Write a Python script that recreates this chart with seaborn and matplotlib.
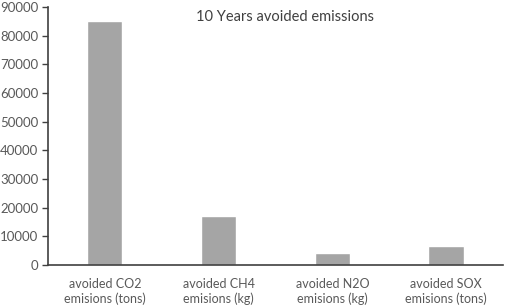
import pandas as pd
import seaborn as sns
import matplotlib.pyplot as plt

# Chart data
categories = ['avoided CO2\nemisions (tons)', 'avoided CH4\nemisions (kg)',
              'avoided N2O\nemisions (kg)', 'avoided SOX\nemisions (tons)']
values = [85000, 17200, 4200, 6500]
yticks = list(range(0, 90001, 10000))

df = pd.DataFrame({'category': categories, 'value': values})

sns.set_style('white')
plt.rcParams['font.family'] = ['Lato', 'DejaVu Sans']

fig = plt.figure(figsize=(5.05, 3.06), dpi=100)
ax = fig.add_axes([0.095, 0.134, 0.901, 0.843])

sns.barplot(data=df, x='category', y='value', color='#a5a5a5', saturation=1,
            width=0.31, ax=ax)

ax.set_ylim(0, 90000)
ax.set_yticks(yticks)
ax.set_xlabel('')
ax.set_ylabel('')
ax.tick_params(axis='y', left=True, length=4, width=1, color='#404040',
               labelsize=9.5, labelcolor='#595959', pad=3)
ax.tick_params(axis='x', bottom=False, labelsize=9, labelcolor='#595959', pad=6)
for lbl in ax.get_xticklabels():
    lbl.set_linespacing(1.25)

for side in ['top', 'right']:
    ax.spines[side].set_visible(False)
ax.spines['left'].set_color('#404040')
ax.spines['bottom'].set_color('#404040')
ax.spines['left'].set_linewidth(1.2)
ax.spines['bottom'].set_linewidth(1.2)

ax.text(0.52, 0.96, '10 Years avoided emissions', transform=ax.transAxes,
        ha='center', va='center', fontsize=10.5, color='#404040')

fig.savefig('out.png', dpi=100)
